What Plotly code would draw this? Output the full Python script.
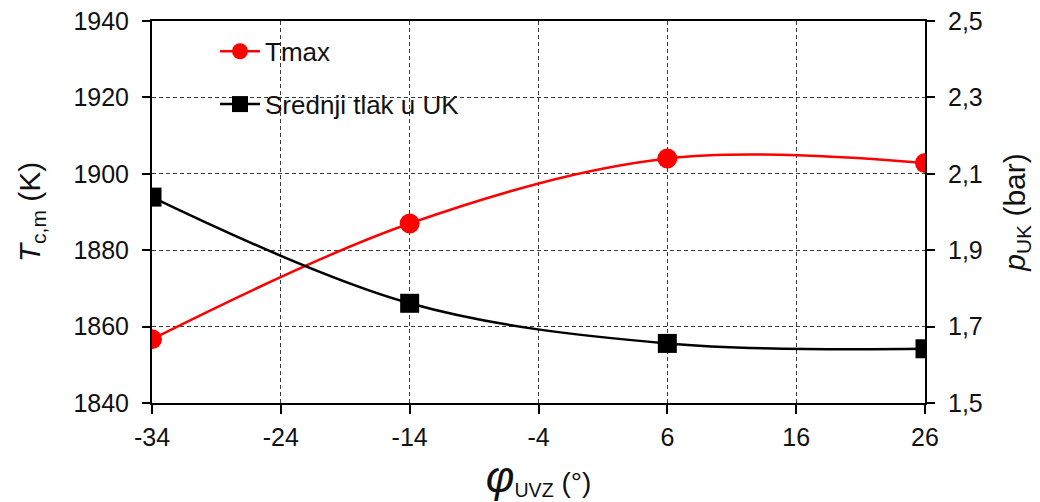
import plotly.graph_objects as go

# ---- data ----
phi = [-34, -14, 6, 26]
tmax = [1856.7, 1887.0, 1904.0, 1902.8]
p_uk = [2.039, 1.761, 1.656, 1.642]
x_ticks = [-34, -24, -14, -4, 6, 16, 26]
y1_ticks = [1840, 1860, 1880, 1900, 1920, 1940]
y2_ticks = [1.5, 1.7, 1.9, 2.1, 2.3, 2.5]
y2_labels = ["1,5", "1,7", "1,9", "2,1", "2,3", "2,5"]
name_t = "Tmax"
name_p = "Srednji tlak u UK"

FONT = "Liberation Sans, Arial, sans-serif"
GRID = "#3a3a3a"

fig = go.Figure()
fig.add_trace(go.Scatter(
    x=phi, y=tmax, name=name_t, mode="lines+markers",
    line=dict(color="#ff0000", width=2.5, shape="spline", smoothing=1),
    marker=dict(symbol="circle", size=20, color="#ff0000"),
    legendgroup="a", yaxis="y",
))
fig.add_trace(go.Scatter(
    x=phi, y=p_uk, name=name_p, mode="lines+markers",
    line=dict(color="#000000", width=2.5, shape="spline", smoothing=1),
    marker=dict(symbol="square", size=19, color="#000000"),
    legendgroup="b", yaxis="y2",
))

# white box behind the legend, above grid
fig.add_shape(type="rect", xref="paper", yref="paper",
              x0=(173 - 152) / 773, x1=(507 - 152) / 773,
              y0=1 - (130 - 21) / 382, y1=1 - (24 - 21) / 382,
              fillcolor="white", line=dict(width=0), layer="between")

fig.update_layout(
    width=1040, height=502,
    margin=dict(l=144, r=123, t=13, b=107, autoexpand=False),
    paper_bgcolor="white", plot_bgcolor="white",
    font=dict(family=FONT, size=25, color="#111111"),
    showlegend=True,
    legend=dict(x=0.0815, y=0.982, xanchor="left", yanchor="top",
                bgcolor="rgba(0,0,0,0)", font=dict(size=26, color="#111111"),
                traceorder="grouped", tracegroupgap=16, itemwidth=40),
    xaxis=dict(
        range=[-34, 26], tickvals=x_ticks, ticktext=[str(v) for v in x_ticks],
        showline=True, linecolor="black", linewidth=2, mirror=True,
        ticks="outside", ticklen=9, tickwidth=2, tickcolor="black",
        showgrid=True, gridcolor=GRID, gridwidth=1, griddash="4px,3px",
        zeroline=False, ticklabelstandoff=2, ticklabeloverflow="allow",
        tickfont=dict(size=25),
        title=dict(text="<span style='font-size:44px'><i>φ</i></span><sub>UVZ</sub> (°)",
                   font=dict(size=28), standoff=22),
    ),
    yaxis=dict(
        range=[1840, 1940], tickvals=y1_ticks,
        showline=True, linecolor="black", linewidth=2,
        ticks="outside", ticklen=8, tickwidth=2, tickcolor="black",
        showgrid=True, gridcolor=GRID, gridwidth=1, griddash="4px,3px",
        zeroline=False, ticklabelstandoff=8, ticklabeloverflow="allow",
        tickfont=dict(size=25),
        title=dict(text="<i>T</i><sub>c,m</sub> (K)", font=dict(size=30), standoff=24),
    ),
    yaxis2=dict(
        range=[1.5, 2.5], tickvals=y2_ticks, ticktext=y2_labels,
        overlaying="y", side="right",
        showline=True, linecolor="black", linewidth=2,
        ticks="outside", ticklen=8, tickwidth=2, tickcolor="black",
        showgrid=False, zeroline=False, ticklabelstandoff=8, ticklabeloverflow="allow",
        tickfont=dict(size=25),
        title=dict(text="<i>p</i><sub>UK</sub> (bar)", font=dict(size=30), standoff=22),
    ),
)

fig.write_html("out.html")
